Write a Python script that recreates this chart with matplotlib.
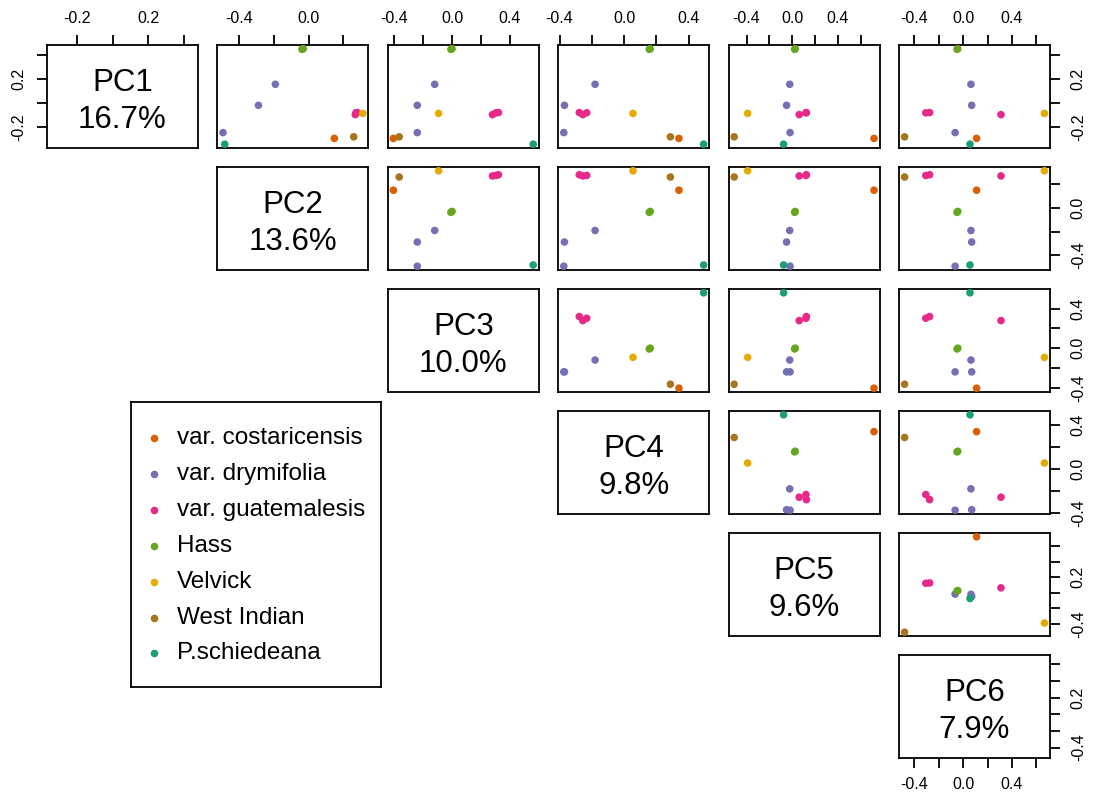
import numpy as np
import matplotlib.pyplot as plt

plt.rcParams['font.family'] = ['Liberation Sans', 'DejaVu Sans']

groups = ['var. costaricensis', 'var. drymifolia', 'var. guatemalesis', 'Hass',
          'Velvick', 'West Indian', 'P.schiedeana']
colors = ['#D95F02', '#7570B3', '#E7298A', '#66A61E', '#E6AB02', '#A6761D', '#1B9E77']

# group index of every sample
sample_group = [0, 1, 1, 1, 2, 2, 2, 3, 3, 4, 5, 6]

pc1 = [-0.292, 0.156, -0.018, -0.244, -0.080, -0.078, -0.095, 0.450, 0.446, -0.085, -0.279, -0.340]
pc2 = [0.148, -0.190, -0.287, -0.490, 0.272, 0.278, 0.268, -0.030, -0.038, 0.311, 0.259, -0.480]
pc3 = [-0.405, -0.120, -0.240, -0.240, 0.303, 0.320, 0.279, 0.000, -0.008, -0.093, -0.365, 0.560]
pc4 = [0.340, -0.180, -0.370, -0.374, -0.232, -0.278, -0.256, 0.162, 0.156, 0.055, 0.287, 0.493]
pc5 = [0.718, -0.021, -0.049, -0.018, 0.121, 0.125, 0.062, 0.027, 0.022, -0.390, -0.508, -0.075]
pc6 = [0.110, 0.064, 0.070, -0.066, -0.306, -0.275, 0.310, -0.044, -0.050, 0.666, -0.480, 0.056]

pc_names = ['PC1', 'PC2', 'PC3', 'PC4', 'PC5', 'PC6']
var_expl = ['16.7%', '13.6%', '10.0%', '9.8%', '9.6%', '7.9%']

# which tick labels R managed to print on each axis
xlab_shown = [[-0.2, 0.2], [-0.4, 0.0], [-0.4, 0.0, 0.4], [-0.4, 0.0, 0.4],
              [-0.4, 0.0, 0.4], [-0.4, 0.0, 0.4]]
ylab_shown = [[-0.2, 0.2], [-0.4, 0.0], [-0.4, 0.0, 0.4], [-0.4, 0.0, 0.4],
              [-0.4, 0.2], [-0.4, 0.2]]

pcs = [np.array(p) for p in (pc1, pc2, pc3, pc4, pc5, pc6)]
point_colors = [colors[g] for g in sample_group]

W, H = 1094, 799
fig = plt.figure(figsize=(W / 100, H / 100), dpi=100)

col_left, col_pitch, pw = 47.0, 170.4, 151.0
row_top, row_pitch, ph = 45, 122, 103


def limits(v):
    lo, hi = v.min(), v.max()
    pad = 0.04 * (hi - lo)
    return lo - pad, hi + pad


def ticks_for(lim):
    t = np.round(np.arange(-1.0, 1.01, 0.2), 1)
    return [x for x in t if lim[0] <= x <= lim[1]]


def fmt(vals, shown):
    return ['%.1f' % (v + 0.0) if any(abs(v - s) < 1e-6 for s in shown) else '' for v in vals]


lims = [limits(p) for p in pcs]
n = 6
for i in range(n):
    for j in range(i, n):
        left = col_left + col_pitch * j
        top = row_top + row_pitch * i
        ax = fig.add_axes([left / W, 1 - (top + ph) / H, pw / W, ph / H])
        ax.set_xlim(lims[j])
        ax.set_ylim(lims[i])
        if i == j:
            ax.text(0.5, 0.45, pc_names[i] + '\n' + var_expl[i], transform=ax.transAxes,
                    ha='center', va='center', fontsize=22.5, linespacing=1.3)
        else:
            ax.scatter(pcs[j], pcs[i], c=point_colors, s=30, linewidths=0, zorder=3)
        for s in ax.spines.values():
            s.set_linewidth(1.3)

        xt = ticks_for(lims[j])
        yt = ticks_for(lims[i])
        ax.set_xticks(xt)
        ax.set_yticks(yt)
        ax.set_xticklabels(fmt(xt, xlab_shown[j]))
        ax.set_yticklabels(fmt(yt, ylab_shown[i]), rotation=90, va='center')
        show_top = i == 0
        show_bottom = i == n - 1 and j == n - 1
        show_left = i == 0 and j == 0
        show_right = j == n - 1
        ax.tick_params(axis='x', direction='out', length=7, width=1.3, labelsize=11.5, pad=7,
                       top=show_top, labeltop=show_top,
                       bottom=show_bottom, labelbottom=show_bottom)
        ax.tick_params(axis='y', direction='out', length=7, width=1.3, labelsize=11.5, pad=8,
                       left=show_left, labelleft=show_left,
                       right=show_right, labelright=show_right)

# legend box
lx, ly, lw, lh = 131, 402, 250, 285
lax = fig.add_axes([lx / W, 1 - (ly + lh) / H, lw / W, lh / H])
lax.set_xlim(0, lw)
lax.set_ylim(lh, 0)
lax.set_xticks([])
lax.set_yticks([])
for s in lax.spines.values():
    s.set_linewidth(1.3)
for k, (name, c) in enumerate(zip(groups, colors)):
    y = 36 + 35.9 * k
    lax.scatter([23], [y], color=c, s=30, linewidths=0)
    lax.text(46, y, name, va='center', ha='left', fontsize=17.5)

fig.savefig('out.png', dpi=100)
